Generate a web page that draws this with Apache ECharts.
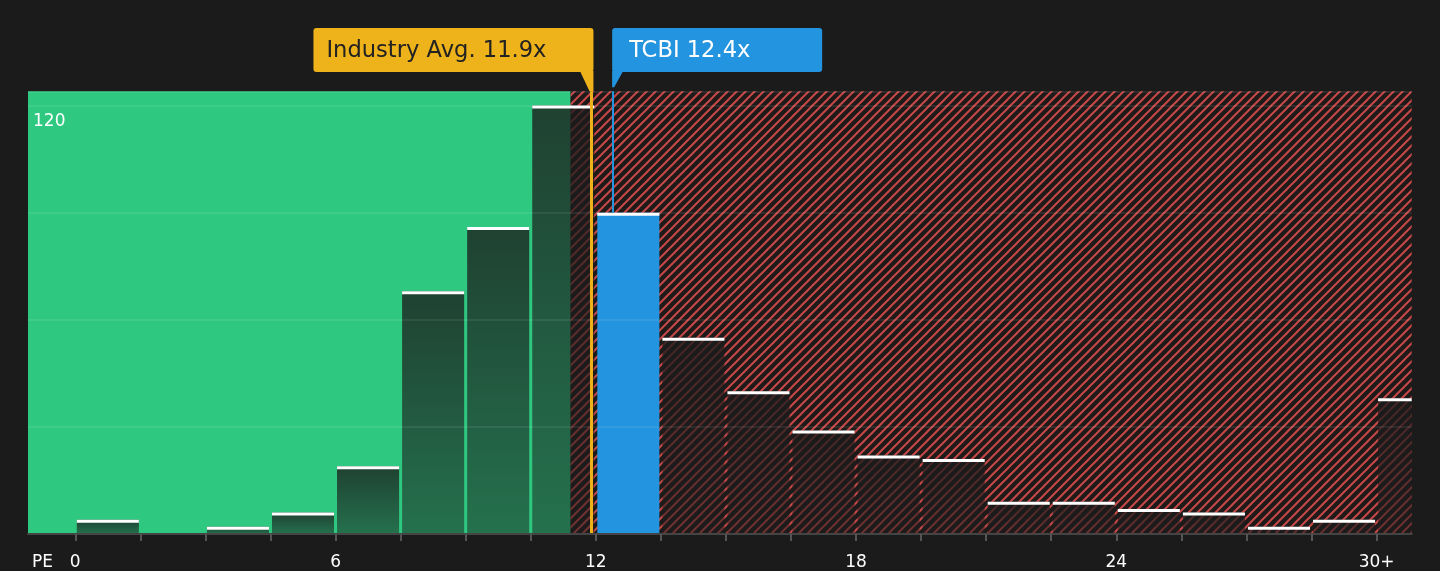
<!DOCTYPE html>
<html>
<head>
<meta charset="utf-8">
<script src="https://cdn.jsdelivr.net/npm/echarts@6/dist/echarts.min.js"></script>
<style>
    html, body { margin: 0; padding: 0; background: #1b1b1b; }
    #chart { width: 1440px; height: 571px; }
</style>
</head>
<body>
<div id="chart"></div>
<script>
// PE bins (lower / upper edge) and number of companies in each
const binStart = [0, 1.5, 3, 4.5, 6, 7.5, 9, 10.5, 12, 13.5, 15, 16.5, 18, 19.5, 21, 22.5, 24, 25.5, 27, 28.5, 30];
const binEnd = [1.5, 3, 4.5, 6, 7.5, 9, 10.5, 12, 13.5, 15, 16.5, 18, 19.5, 21, 22.5, 24, 25.5, 27, 28.5, 30, 31.5];
const companyCounts = [4, 0, 2, 6, 19, 68, 86, 120, 90, 55, 40, 29, 22, 21, 9, 9, 7, 6, 2, 4, 38];

// axis ticks and labels
const xTickValues = [0, 1.5, 3, 4.5, 6, 7.5, 9, 10.5, 12, 13.5, 15, 16.5, 18, 19.5, 21, 22.5, 24, 25.5, 27, 28.5, 30];
const xLabelValues = [0, 6, 12, 18, 24, 30];
const yLabelValues = [120];

const industryPE = 11.9;
const companyPE = 12.4;
const companyName = 'TCBI';
const companyBin = 8;
const fairPE = 11.42;

const xMin = -1.09, xMax = 30.81, yMax = 124;

const green = '#2ec880';
const yellow = '#eeb21a';
const blue = '#2394df';
const font = 'DejaVu Sans';

// red diagonal hatch for the overvalued zone
function makeHatch() {
    const s = 9;
    const c = document.createElement('canvas');
    c.width = s;
    c.height = s;
    const ctx = c.getContext('2d');
    ctx.fillStyle = '#1e1a1a';
    ctx.fillRect(0, 0, s, s);
    ctx.strokeStyle = '#c84848';
    ctx.lineWidth = 2;
    [-s, 0, s].forEach(k => {
        ctx.beginPath();
        ctx.moveTo(k - 1, s + 1);
        ctx.lineTo(k + s + 1, -1);
        ctx.stroke();
    });
    return c;
}

const barData = companyCounts.map((v, i) => [binStart[i], binEnd[i], v]);

let chart = echarts.init(document.getElementById('chart'));
chart.setOption({
    backgroundColor: '#1b1b1b',
    animation: false,
    grid: { left: 28, right: 28.3, top: 91.3, bottom: 37 },
    xAxis: {
        type: 'value',
        min: xMin,
        max: xMax,
        z: 5,
        axisLine: { show: true, lineStyle: { color: '#444', width: 2 } },
        axisTick: { show: true, customValues: xTickValues, length: 7, lineStyle: { color: '#555', width: 2 } },
        axisLabel: {
            customValues: xLabelValues,
            color: '#fff',
            fontSize: 17,
            fontFamily: font,
            margin: 20,
            formatter: v => v === 30 ? '30+' : String(v)
        },
        splitLine: { show: false }
    },
    yAxis: {
        type: 'value',
        min: 0,
        max: yMax,
        interval: 30,
        z: 5,
        axisLine: { show: false },
        axisTick: { show: false },
        axisLabel: {
            customValues: yLabelValues,
            inside: true,
            margin: 5,
            color: '#fff',
            fontSize: 17,
            fontFamily: font,
            verticalAlign: 'top',
            padding: [7, 0, 0, 0]
        },
        splitLine: { lineStyle: { color: 'rgba(255, 255, 255, 0.1)', width: 1.5 } }
    },
    series: [{
        type: 'line',
        data: [],
        z: 1,
        markArea: {
            silent: true,
            data: [
                [{ xAxis: xMin, yAxis: 0, itemStyle: { color: green } }, { xAxis: fairPE, yAxis: yMax }],
                [{ xAxis: fairPE, yAxis: 0, itemStyle: { color: { image: makeHatch(), repeat: 'repeat' } } }, { xAxis: xMax, yAxis: yMax }]
            ]
        }
    }, {
        type: 'custom',
        z: 2,
        data: barData,
        encode: { x: [0, 1], y: 2 },
        renderItem: function(params, api) {
            const cs = params.coordSys;
            const topLeft = api.coord([api.value(0), api.value(2)]);
            const bottomRight = api.coord([api.value(1), 0]);
            const x0 = topLeft[0] + 1.5;
            const x1 = Math.min(bottomRight[0] - 1.5, cs.x + cs.width);
            const w = x1 - x0;
            const h = bottomRight[1] - topLeft[1];
            if (h <= 0) return;
            const isCompany = params.dataIndex === companyBin;
            return {
                type: 'group',
                children: [{
                    type: 'rect',
                    shape: { x: x0, y: topLeft[1], width: w, height: h },
                    style: {
                        fill: isCompany ? blue : new echarts.graphic.LinearGradient(0, 0, 0, 1, [
                            { offset: 0, color: 'rgba(27, 27, 27, 0.78)' },
                            { offset: 1, color: 'rgba(27, 27, 27, 0.5)' }
                        ])
                    }
                }, {
                    type: 'rect',
                    shape: { x: x0, y: topLeft[1], width: w, height: 3 },
                    style: { fill: '#fff' }
                }]
            };
        },
        markLine: {
            silent: true,
            symbol: 'none',
            label: { show: false },
            data: [
                [{ coord: [industryPE, 0], lineStyle: { color: yellow, width: 3, type: 'solid' } }, { coord: [industryPE, yMax] }],
                [{ coord: [companyPE, companyCounts[companyBin]], lineStyle: { color: blue, width: 2, type: 'solid' } }, { coord: [companyPE, yMax] }]
            ]
        }
    }]
});

// annotation boxes pinned to the two reference lines
const plotTop = chart.convertToPixel({ gridIndex: 0 }, [0, yMax])[1];
const xInd = chart.convertToPixel({ gridIndex: 0 }, [industryPE, 0])[0];
const xCo = chart.convertToPixel({ gridIndex: 0 }, [companyPE, 0])[0];
const boxTop = 28, boxBottom = 72;
const indW = 280, coW = 210;

chart.setOption({
    graphic: [
        {
            type: 'rect',
            shape: { x: xInd + 2 - indW, y: boxTop, width: indW, height: boxBottom - boxTop, r: 3 },
            style: { fill: yellow }
        },
        {
            type: 'polygon',
            shape: { points: [[xInd - 11.5, boxBottom - 1], [xInd + 2, boxBottom - 1], [xInd + 2, plotTop + 1], [xInd - 1.5, plotTop + 1]] },
            style: { fill: yellow }
        },
        {
            type: 'text',
            x: xInd + 2 - indW + 13,
            y: (boxTop + boxBottom) / 2 + 1,
            style: { text: 'Industry Avg. ' + industryPE + 'x', fill: '#222', fontSize: 22.6, fontFamily: font, verticalAlign: 'middle' }
        },
        {
            type: 'rect',
            shape: { x: xCo - 1, y: boxTop, width: coW, height: boxBottom - boxTop, r: 3 },
            style: { fill: blue }
        },
        {
            type: 'polygon',
            shape: { points: [[xCo - 1, boxBottom - 1], [xCo + 10, boxBottom - 1], [xCo + 1, plotTop - 4], [xCo - 1, plotTop - 4]] },
            style: { fill: blue }
        },
        {
            type: 'text',
            x: xCo + 16,
            y: (boxTop + boxBottom) / 2 + 1,
            style: { text: companyName + ' ' + companyPE + 'x', fill: '#fff', fontSize: 22.6, fontFamily: font, verticalAlign: 'middle' }
        },
        {
            type: 'text',
            x: 48,
            y: 519,
            rotation: Math.PI / 2,
            style: { text: 'No. of Companies', fill: '#fff', fontSize: 19, fontFamily: font, align: 'left', verticalAlign: 'middle' }
        },
        {
            type: 'text',
            x: 32,
            y: 563,
            style: { text: 'PE', fill: '#fff', fontSize: 17, fontFamily: font, align: 'left', verticalAlign: 'middle' }
        }
    ]
});
</script>
</body>
</html>
